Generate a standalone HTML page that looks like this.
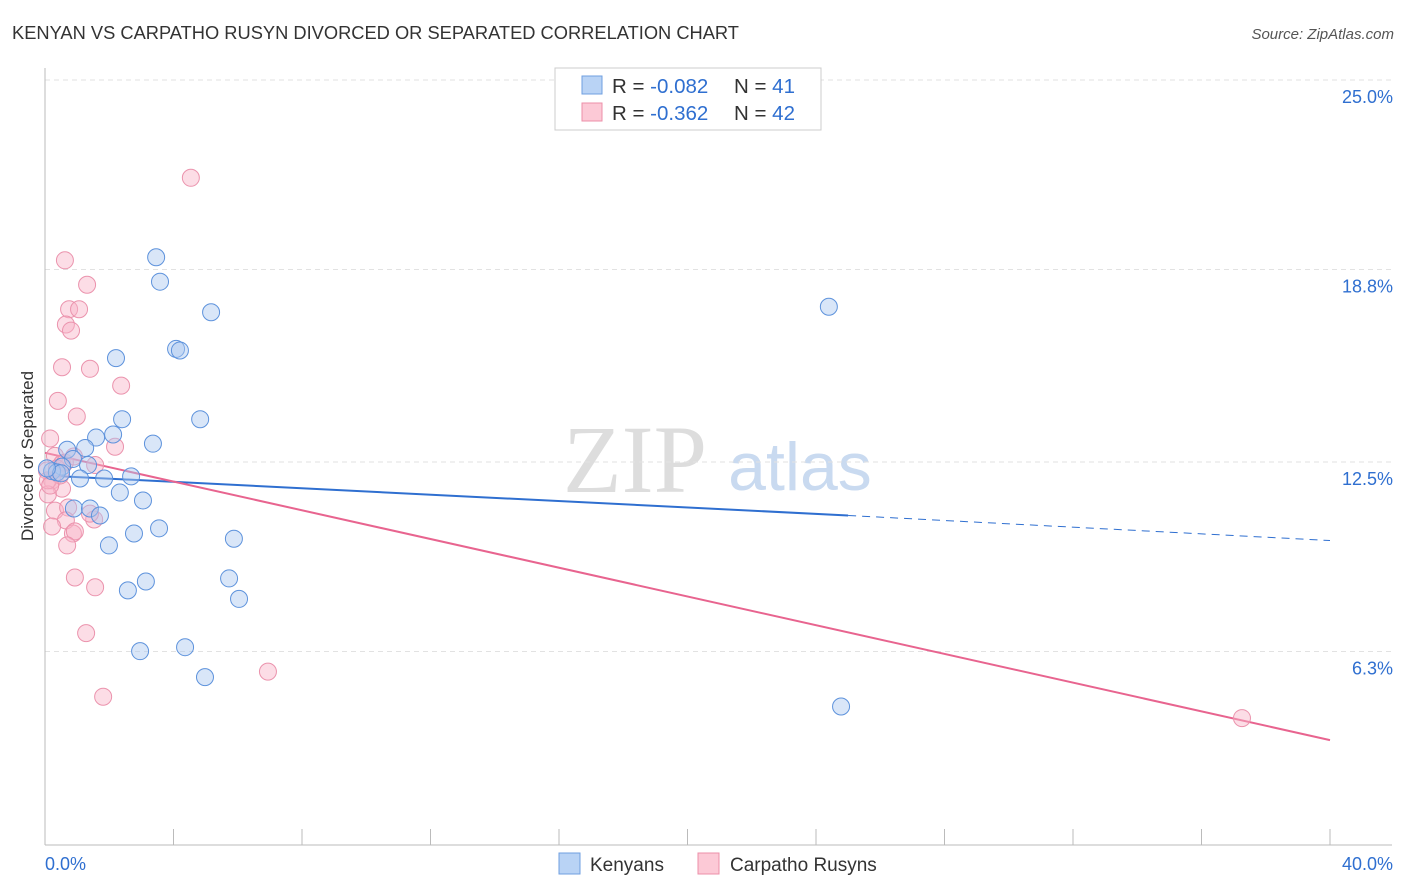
<!DOCTYPE html>
<html><head><meta charset="utf-8"><style>
body{margin:0;background:#fff;font-family:"Liberation Sans",sans-serif;}
svg{display:block}
</style></head><body>
<svg width="1406" height="892" xmlns="http://www.w3.org/2000/svg">
<text x="12" y="39" font-size="18.3" fill="#333">KENYAN VS CARPATHO RUSYN DIVORCED OR SEPARATED CORRELATION CHART</text>
<text x="1394" y="39" font-size="15" fill="#555" text-anchor="end" font-style="italic">Source: ZipAtlas.com</text>
<text x="33" y="456" font-size="17" fill="#333" text-anchor="middle" transform="rotate(-90 33 456)">Divorced or Separated</text>
<text x="635" y="492" font-size="96" fill="#ddd" font-family="Liberation Serif" text-anchor="middle">ZIP</text>
<text x="800" y="490" font-size="68" fill="#c9daf0" text-anchor="middle">atlas</text>
<g id="grid"></g><g id="axes"></g><g id="lines"></g><g id="pts"></g>
<g>
<rect x="555" y="68" width="266" height="62" fill="#fff" stroke="#ccc"/>
<rect x="582" y="76" width="20" height="18" fill="#b9d3f5" stroke="#6f9fe0"/>
<rect x="582" y="103" width="20" height="18" fill="#fcc9d6" stroke="#ec8fa8"/>
<text x="612" y="93" font-size="20.5" fill="#333">R = <tspan fill="#2f6fd0">-0.082</tspan></text>
<text x="734" y="93" font-size="20.5" fill="#333">N = <tspan fill="#2f6fd0"> 41</tspan></text>
<text x="612" y="120" font-size="20.5" fill="#333">R = <tspan fill="#2f6fd0">-0.362</tspan></text>
<text x="734" y="120" font-size="20.5" fill="#333">N = <tspan fill="#2f6fd0">42</tspan></text>
</g>
<rect x="559" y="853" width="21" height="21" fill="#b9d3f5" stroke="#6f9fe0"/>
<text x="590" y="871" font-size="19" fill="#333">Kenyans</text>
<rect x="698" y="853" width="21" height="21" fill="#fcc9d6" stroke="#ec8fa8"/>
<text x="730" y="871" font-size="19" fill="#333">Carpatho Rusyns</text>
</svg>
<script>
const yTicks=[25.0,18.8,12.5,6.3];
const yTickLabels=["25.0%","18.8%","12.5%","6.3%"];
const xTickLabels=["0.0%","40.0%"];
const kenyanX=[3.46,3.58,5.17,4.08,4.20,2.21,2.40,4.83,2.12,1.59,3.36,0.69,1.25,0.87,1.34,0.53,0.22,0.37,1.09,1.84,2.68,2.33,3.05,0.90,1.40,1.71,3.55,2.77,5.88,1.99,5.73,3.14,2.58,6.04,2.96,4.36,4.98,24.4,24.78,0.50,0.06];
const kenyanY=[19.2,18.4,17.4,16.2,16.15,15.9,13.9,13.9,13.4,13.3,13.1,12.9,12.96,12.6,12.4,12.35,12.2,12.16,11.96,11.96,12.03,11.5,11.24,10.98,10.98,10.75,10.33,10.16,9.99,9.77,8.69,8.59,8.3,8.02,6.31,6.44,5.46,17.58,4.5,12.13,12.29];
const rusynX=[4.54,0.62,1.31,0.75,1.06,0.65,0.81,0.53,1.40,2.37,0.40,0.99,0.16,2.18,0.31,1.56,0.53,0.06,0.22,0.53,0.09,0.31,0.72,1.53,0.65,0.22,0.87,0.93,0.69,0.93,1.56,1.28,1.81,6.94,37.26,0.09,0.37,0.62,1.40,0.47,0.16,0.90];
const rusynY=[21.8,19.1,18.3,17.5,17.5,17.0,16.8,15.6,15.55,15.0,14.5,13.99,13.27,13.0,12.7,12.4,12.45,12.22,11.9,11.63,11.44,10.91,11.01,10.62,10.59,10.39,10.16,10.23,9.77,8.72,8.4,6.9,4.82,5.64,4.12,11.9,12.29,12.48,10.81,12.06,11.73,12.68];
const blueLine=[[0,12.06],[25,10.75],[40,9.93]];
const pinkLine=[[0,12.8],[40,3.4]];
const NS="http://www.w3.org/2000/svg";
const X0=45,X1=1330,Y0=844,YT=80;
const sx=v=>X0+(X1-X0)*v/40;
const sy=v=>Y0-(Y0-YT)*v/25;
function mk(t,a,p){const e=document.createElementNS(NS,t);for(const k in a)e.setAttribute(k,a[k]);document.getElementById(p).appendChild(e);return e;}
yTicks.forEach((v,i)=>{
 const g=mk('line',{x1:X0,x2:1392,y1:sy(v),y2:sy(v),stroke:'#e2e2e2','stroke-dasharray':'5,4'},'grid');
 
 
 const t=mk('text',{x:1393,y:sy(v)+23,'font-size':18,fill:'#2f6fd0','text-anchor':'end'},'axes');
 t.textContent=yTickLabels[i];
 
 
});
const ax=mk('line',{x1:X0,x2:X0,y1:68,y2:845,stroke:'#bbb'},'axes');


const bx=mk('line',{x1:X0,x2:1392,y1:845,y2:845,stroke:'#bbb'},'axes');


for(let i=1;i<=10;i++){
 const tk=mk('line',{x1:sx(i*4),x2:sx(i*4),y1:829,y2:845,stroke:'#bbb'},'axes');
 
 
}
[[0,'start',45],[40,'end',1393]].forEach((d,i)=>{
 const t=mk('text',{x:d[2],y:870,'font-size':18,fill:'#2f6fd0','text-anchor':d[1]},'axes');
 t.textContent=xTickLabels[i];
 
 
});
const bl1=mk('line',{x1:sx(blueLine[0][0]),y1:sy(blueLine[0][1]),x2:sx(blueLine[1][0]),y2:sy(blueLine[1][1]),stroke:'#2f6fd0','stroke-width':2},'lines');


const bl2=mk('line',{x1:sx(blueLine[1][0]),y1:sy(blueLine[1][1]),x2:sx(blueLine[2][0]),y2:sy(blueLine[2][1]),stroke:'#2f6fd0','stroke-width':1,'stroke-dasharray':'8,6'},'lines');


const pl=mk('line',{x1:sx(pinkLine[0][0]),y1:sy(pinkLine[0][1]),x2:sx(pinkLine[1][0]),y2:sy(pinkLine[1][1]),stroke:'#e8648f','stroke-width':2},'lines');


rusynX.forEach((x,i)=>{
 const c=mk('circle',{cx:sx(x),cy:sy(rusynY[i]),r:8.5,fill:'rgba(248,180,200,0.45)',stroke:'#eb93ad','stroke-width':1},'pts');
 
 
});
kenyanX.forEach((x,i)=>{
 const c=mk('circle',{cx:sx(x),cy:sy(kenyanY[i]),r:8.5,fill:'rgba(170,200,240,0.45)',stroke:'#5d92dc','stroke-width':1},'pts');
 
 
});
</script>
</body></html>
